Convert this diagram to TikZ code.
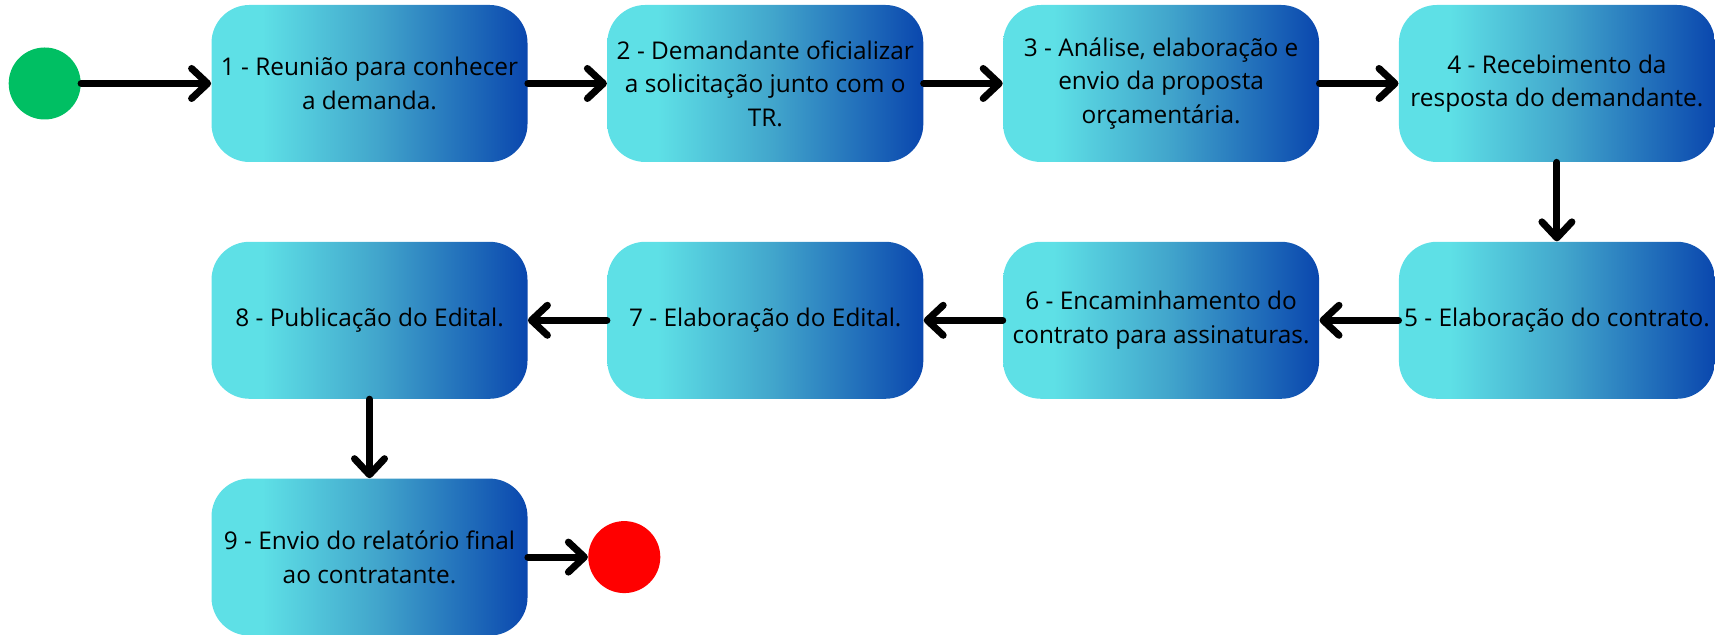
\documentclass[tikz,border=0pt]{standalone}
\usepackage{fontspec}
\setmainfont{Open Sans}
\usepackage{tikz}
\usetikzlibrary{arrows.meta, positioning}
\definecolor{cianoClaro}{HTML}{5EE0E6}
\definecolor{cianoMedio}{HTML}{42A6CC}
\definecolor{azulEscuro}{HTML}{0A47AE}
\definecolor{verdeInicio}{HTML}{00BF63}
\definecolor{vermelhoFim}{HTML}{FF0000}
% o caminho ocupa a faixa de 25bp a 75bp
\pgfdeclarehorizontalshading{gradEtapa}{100bp}{color(0bp)=(cianoClaro); color(33bp)=(cianoClaro); color(51bp)=(cianoMedio); color(75bp)=(azulEscuro); color(100bp)=(azulEscuro)}

\begin{document}
\begin{tikzpicture}[
        node distance=39.5pt and 39.5pt,
        etapa/.style={shading=gradEtapa, rounded corners=19pt,
            minimum width=158pt, minimum height=78.5pt, inner sep=1pt, align=center,
            font=\fontsize{12.2}{16.8}\selectfont},
        inicio/.style={circle, fill=verdeInicio, minimum size=36pt, inner sep=0pt},
        fim/.style={circle, fill=vermelhoFim, minimum size=36pt, inner sep=0pt},
        seta/.style={line width=3.5pt, line cap=round, -{Straight Barb[length=8pt, width=15pt, round]}}
    ]
        \useasboundingbox (0,0) rectangle (858.5pt,317.5pt);
        \node[etapa] (e1) at (184.75pt,275.75pt) {1 - Reunião para conhecer\\a demanda.};
        \node[etapa, right=of e1] (e2) {2 - Demandante oficializar\\a solicitação junto com o\\TR.};
        \node[etapa, right=of e2] (e3) {3 - Análise, elaboração e\\envio da proposta\\orçamentária.};
        \node[etapa, right=of e3] (e4) {4 - Recebimento da\\resposta do demandante.};
        \node[etapa, below=of e4] (e5) {5 - Elaboração do contrato.};
        \node[etapa, left=of e5] (e6) {6 - Encaminhamento do\\contrato para assinaturas.};
        \node[etapa, left=of e6] (e7) {7 - Elaboração do Edital.};
        \node[etapa, left=of e7] (e8) {8 - Publicação do Edital.};
        \node[etapa, below=of e8] (e9) {9 - Envio do relatório final\\ao contratante.};
        \node[inicio, left=65pt of e1] (ini) {};
        \node[fim, right=30pt of e9] (final) {};

        \draw[seta] (ini) -- (e1);
        \draw[seta] (e1) -- (e2);
        \draw[seta] (e2) -- (e3);
        \draw[seta] (e3) -- (e4);
        \draw[seta] (e4) -- (e5);
        \draw[seta] (e5) -- (e6);
        \draw[seta] (e6) -- (e7);
        \draw[seta] (e7) -- (e8);
        \draw[seta] (e8) -- (e9);
        \draw[seta] (e9) -- (final);
    \end{tikzpicture}
\end{document}
